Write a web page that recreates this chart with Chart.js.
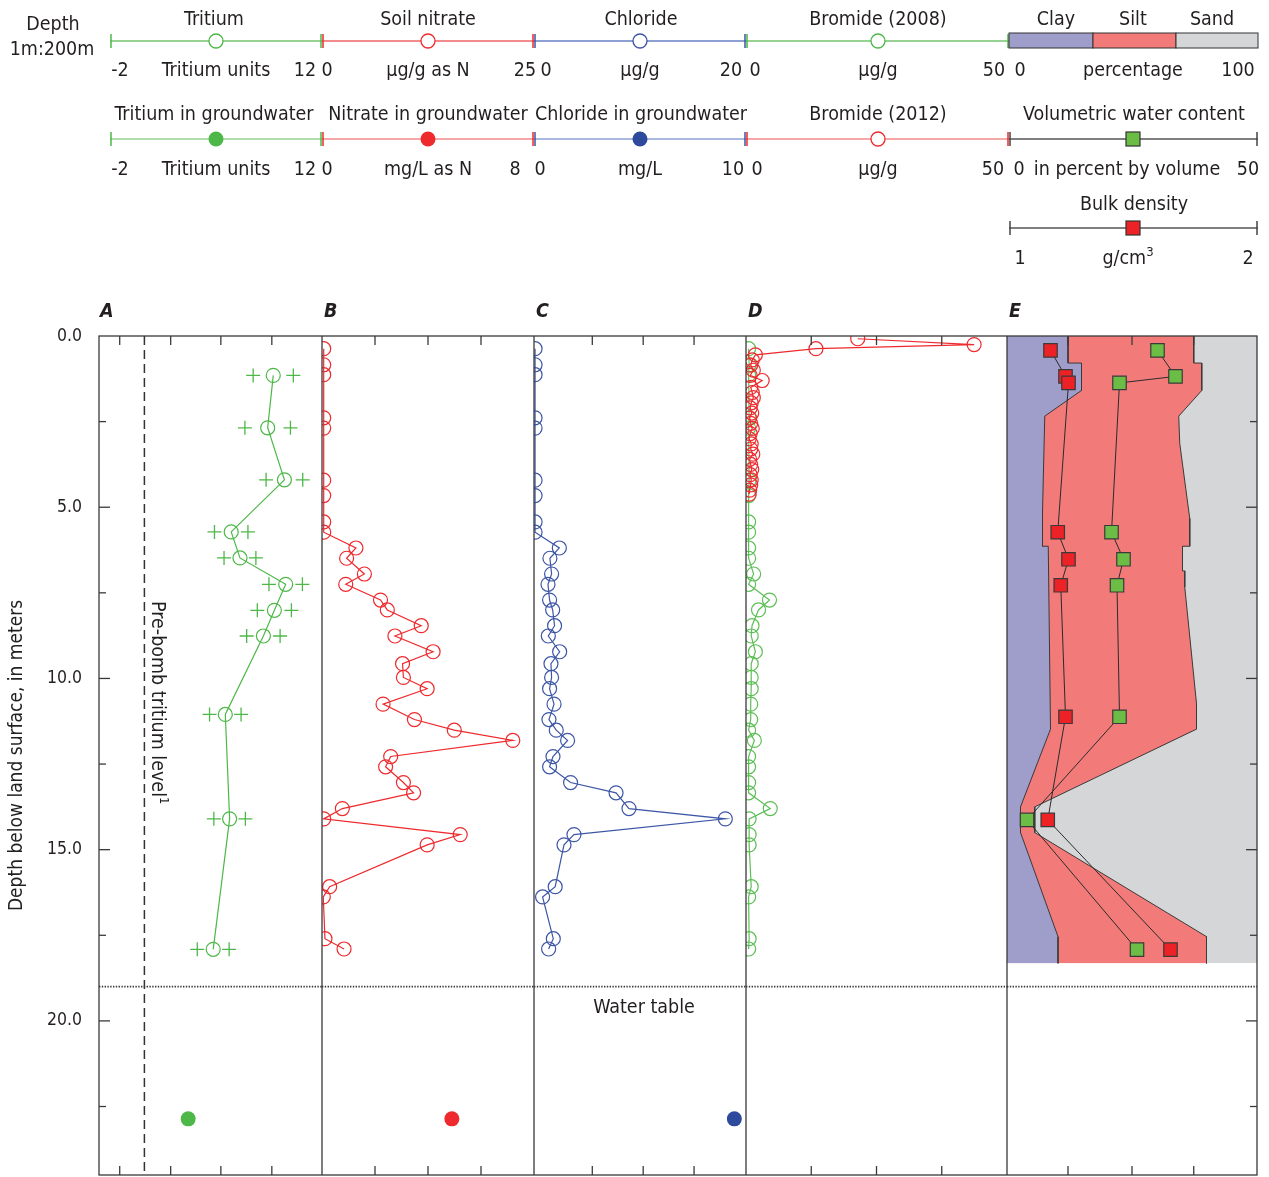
<!DOCTYPE html>
<html>
<head>
<meta charset="utf-8">
<title>Unsaturated zone profiles</title>
<script src="https://cdn.jsdelivr.net/npm/chart.js@4.4.1/dist/chart.umd.min.js"></script>
<style>
  html, body { margin: 0; padding: 0; background: #fff; }
  #page { position: relative; width: 1269px; height: 1177px; overflow: hidden; }
  #page canvas { position: absolute; top: 306px; }
  #overlay { position: absolute; left: 0; top: 0; pointer-events: none; }
  #overlay text { font-family: "Liberation Sans Narrow", "DejaVu Sans Condensed", sans-serif; font-size: 19.5px; fill: #231f20; }
</style>
</head>
<body>
<div id="page">
  <canvas id="chartA" width="322" height="899" style="left:0"></canvas>
  <canvas id="chartB" width="212" height="899" style="left:322px"></canvas>
  <canvas id="chartC" width="212" height="899" style="left:534px"></canvas>
  <canvas id="chartD" width="261" height="899" style="left:746px"></canvas>
  <canvas id="chartE" width="252" height="899" style="left:1007px"></canvas>
  <svg id="overlay" width="1269" height="1177"></svg>
</div>
<script>
// depth axis (meters below land surface)
const depthMin = 0;
const depthMax = 24.5;
const depthLabels = [0, 5, 10, 15, 20];
const depthMajorTicks = [5, 10, 15, 20];
const depthMinorTicks = [2.5, 7.5, 12.5, 17.5, 22.5];
const waterTableDepth = 19.0;

// panel A - tritium
const tritiumDepth = [1.15, 2.68, 4.20, 5.72, 6.48, 7.25, 8.01, 8.76, 11.05, 14.10, 17.91];
const tritium = [8.94, 8.59, 9.64, 6.30, 6.85, 9.72, 9.01, 8.32, 5.93, 6.20, 5.17];
const tritiumErr = [1.26, 1.43, 1.15, 1.05, 1.0, 1.05, 1.07, 1.05, 0.99, 0.99, 1.0];
const preBombTritium = 0.85;
const tritiumTicks = [-0.7, 2.5, 5.65, 8.85];

// groundwater samples
const gwDepth = 22.86;
const gwTritium = 3.6;
const gwNitrate = 4.9;
const gwChloride = 9.45;

// panels B, C, D - core samples
const coreDepth = [0.37, 0.84, 1.13, 2.39, 2.69, 4.21, 4.66, 5.43, 5.73, 6.19, 6.49, 6.95, 7.25, 7.71, 8.0, 8.46, 8.76, 9.22,
  9.57, 9.97, 10.3, 10.75, 11.2, 11.51, 11.81, 12.28, 12.58, 13.04, 13.34, 13.8, 14.1, 14.56, 14.86, 16.08, 16.38, 17.6, 17.9];
const soilNitrate = [0.2, 0.2, 0.2, 0.2, 0.2, 0.2, 0.2, 0.2, 0.2, 4.0, 2.9, 5.0, 2.8, 6.9, 7.7, 11.7, 8.6, 13.1,
  9.5, 9.6, 12.4, 7.2, 10.9, 15.6, 22.5, 8.1, 7.5, 9.6, 10.8, 2.4, 0.2, 16.3, 12.4, 0.9, 0.15, 0.35, 2.6];
const chloride = [0.1, 0.1, 0.1, 0.1, 0.1, 0.1, 0.1, 0.1, 0.1, 2.39, 1.5, 1.66, 1.32, 1.47, 1.76, 1.94, 1.35, 2.42,
  1.6, 1.66, 1.47, 1.89, 1.41, 2.1, 3.17, 1.79, 1.47, 3.45, 7.74, 8.96, 18.05, 3.77, 2.83, 2.0, 0.81, 1.82, 1.38];
const bromide2008 = [0.5, 0.6, 0.5, 0.6, 0.5, 0.6, 0.5, 0.5, 0.5, 0.5, 0.5, 1.46, 0.5, 4.5, 2.4, 1.15, 1.0, 1.8,
  1.0, 1.0, 1.0, 0.9, 0.9, 0.5, 1.6, 0.5, 0.5, 0.5, 0.5, 4.65, 0.6, 0.6, 0.6, 1.0, 0.5, 0.6, 0.5];
const bromide2012Depth = [0.08, 0.25, 0.37, 0.55, 0.7, 0.85, 1.0, 1.15, 1.3, 1.5, 1.65, 1.8, 1.95, 2.1, 2.25, 2.4,
  2.55, 2.7, 2.85, 3.0, 3.15, 3.3, 3.45, 3.6, 3.75, 3.9, 4.05, 4.2, 4.35, 4.5, 4.62];
const bromide2012 = [21.4, 43.7, 13.4, 1.8, 1.2, 0.9, 1.4, 0.8, 3.1, 0.9, 1.2, 1.4, 1.0, 0.8, 1.1, 0.7,
  0.9, 1.2, 0.8, 0.6, 1.0, 0.9, 1.3, 0.7, 0.9, 1.1, 0.8, 1.0, 0.9, 0.7, 0.6];
const nitrateTicks = [6.25, 12.5, 18.75];
const chlorideTicks = [5.5, 10.3, 15.1];
const bromideTicks = [12.5, 25, 37.5];

// panel E - texture, water content, bulk density
const clayDepth = [0, 0.79, 0.79, 1.59, 2.34, 5.14, 6.14, 6.14, 11.48, 13.75, 14.5, 17.54, 18.32];
const clayPct = [24.4, 24.4, 29.8, 29.8, 15.1, 14.2, 14.2, 16.5, 17.4, 5.4, 5.4, 20.4, 20.4];
const clayPlusSiltDepth = [0, 0.79, 0.79, 1.59, 2.34, 3.14, 5.33, 6.14, 6.14, 6.86, 6.86, 7.33, 10.73, 11.48, 13.75, 14.5, 17.54, 18.32];
const clayPlusSiltPct = [74.7, 74.7, 77.9, 77.9, 68.7, 69.1, 73.1, 73.1, 70.2, 70.2, 71.1, 71.1, 75.8, 75.8, 11.1, 11.1, 79.8, 79.8];
const textureBottom = 18.32;
const sampleDepthE = [0.42, 1.18, 1.37, 5.73, 6.52, 7.28, 11.12, 14.13, 17.92];
const waterContent = [30.1, 33.7, 22.5, 20.9, 23.3, 22.0, 22.5, 4.0, 26.0];
const bulkDensity = [1.174, 1.234, 1.246, 1.203, 1.246, 1.215, 1.234, 1.163, 1.654];
const textureTicks = [24.4, 50, 74.7];

const fontStack = '"Liberation Sans Narrow", "DejaVu Sans Condensed", sans-serif';
const green = '#4db848', red = '#ee2a2e', blue = '#3d56a6';

const panelFrame = {
  id: 'panelFrame',
  afterDatasetsDraw(chart, args, opts) {
    const { ctx, chartArea: area } = chart;
    const xs = chart.scales.x;
    const ys = chart.scales.y;
    const seg = (x0, y0, x1, y1) => { ctx.beginPath(); ctx.moveTo(x0, y0); ctx.lineTo(x1, y1); ctx.stroke(); };
    ctx.save();
    ctx.strokeStyle = '#3a3a3a';
    // water table
    const wy = ys.getPixelForValue(waterTableDepth);
    ctx.lineWidth = 1.6;
    ctx.setLineDash([1.4, 1.4]);
    seg(area.left, wy, area.right, wy);
    ctx.setLineDash([]);
    ctx.lineWidth = 1.3;
    ctx.strokeRect(area.left, area.top, area.right - area.left, area.bottom - area.top);
    (opts.xTicks || []).forEach(v => {
      const px = xs.getPixelForValue(v);
      seg(px, area.top, px, area.top + 9);
      seg(px, area.bottom, px, area.bottom - 9);
    });
    if (opts.depthSide) {
      const edge = opts.depthSide === 'left' ? area.left : area.right;
      const dir = opts.depthSide === 'left' ? 1 : -1;
      depthMajorTicks.forEach(d => { const py = ys.getPixelForValue(d); seg(edge, py, edge + dir * 11, py); });
      depthMinorTicks.forEach(d => { const py = ys.getPixelForValue(d); seg(edge, py, edge + dir * 7, py); });
    }
    ctx.restore();
  }
};

function depthScale(show) {
  return {
    type: 'linear', min: depthMin, max: depthMax, reverse: true, display: show,
    grid: { display: false, drawTicks: false },
    border: { display: false },
    afterBuildTicks: s => { s.ticks = depthLabels.map(v => ({ value: v })); },
    afterFit: s => { if (show) s.width = 99; },
    ticks: { padding: 17, color: '#231f20', font: { family: fontStack, size: 17.5 }, callback: v => v.toFixed(1) },
    title: { display: show, text: 'Depth below land surface, in meters', color: '#231f20',
      font: { family: fontStack, size: 19 }, padding: { top: 6, bottom: 0 } }
  };
}

function hidden(min, max) {
  return { type: 'linear', axis: 'x', min: min, max: max, display: false };
}

function panelOptions(xScales, frame, showDepth, padRight) {
  return {
    responsive: false,
    animation: false,
    indexAxis: 'y',
    layout: { autoPadding: false, padding: { top: 30, bottom: 30, left: 0, right: padRight || 0 } },
    scales: Object.assign({ y: depthScale(showDepth) }, xScales),
    plugins: { legend: { display: false }, tooltip: { enabled: false }, panelFrame: frame },
    elements: { line: { tension: 0 } }
  };
}

function profile(depths, values, color, axisId) {
  return {
    data: depths.map((d, i) => ({ x: values[i], y: d })),
    xAxisID: axisId || 'x',
    borderColor: color, borderWidth: 1.2,
    pointRadius: 7, pointBorderColor: color, pointBorderWidth: 1.2,
    pointBackgroundColor: 'rgba(0,0,0,0)'
  };
}

function dot(value, color, axisId) {
  return {
    data: [{ x: value, y: gwDepth }], xAxisID: axisId || 'x', showLine: false,
    pointRadius: 7.5, pointBackgroundColor: color, pointBorderColor: color, pointBorderWidth: 0
  };
}

// Panel A
new Chart(document.getElementById('chartA'), {
  type: 'line',
  data: {
    datasets: [
      profile(tritiumDepth, tritium, green),
      {
        data: tritiumDepth.flatMap((d, i) => [{ x: tritium[i] - tritiumErr[i], y: d }, { x: tritium[i] + tritiumErr[i], y: d }]),
        showLine: false, pointStyle: 'cross', pointRadius: 7, pointBorderColor: green, pointBorderWidth: 1.3
      },
      dot(gwTritium, green),
      {
        data: [{ x: preBombTritium, y: depthMin }, { x: preBombTritium, y: depthMax }],
        borderColor: '#333', borderWidth: 1.5, borderDash: [9, 5], pointRadius: 0
      }
    ]
  },
  options: panelOptions({ x: hidden(-2, 12) }, { xTicks: tritiumTicks, depthSide: 'left' }, true),
  plugins: [panelFrame]
});

// Panel B
new Chart(document.getElementById('chartB'), {
  type: 'line',
  data: { datasets: [profile(coreDepth, soilNitrate, red), dot(gwNitrate, red, 'x2')] },
  options: panelOptions({ x: hidden(0, 25), x2: hidden(0, 8) }, { xTicks: nitrateTicks }, false),
  plugins: [panelFrame]
});

// Panel C
new Chart(document.getElementById('chartC'), {
  type: 'line',
  data: { datasets: [profile(coreDepth, chloride, blue), dot(gwChloride, '#2e4a9c', 'x2')] },
  options: panelOptions({ x: hidden(0, 20), x2: hidden(0, 10) }, { xTicks: chlorideTicks }, false),
  plugins: [panelFrame]
});

// Panel D
new Chart(document.getElementById('chartD'), {
  type: 'line',
  data: { datasets: [profile(bromide2012Depth, bromide2012, red), profile(coreDepth, bromide2008, '#5cbf55')] },
  options: panelOptions({ x: hidden(0, 50) }, { xTicks: bromideTicks }, false),
  plugins: [panelFrame]
});

// Panel E
function squares(values, color, axisId) {
  return {
    data: sampleDepthE.map((d, i) => ({ x: values[i], y: d })), xAxisID: axisId,
    borderColor: '#2b2b2b', borderWidth: 1,
    pointStyle: 'rect', pointRadius: 9.5, pointBackgroundColor: color,
    pointBorderColor: '#3a3a3a', pointBorderWidth: 1.2
  };
}
function texture(depths, values, color, edge) {
  return {
    data: depths.map((d, i) => ({ x: values[i], y: d })), xAxisID: 'x',
    borderColor: edge, borderWidth: 1, pointRadius: 0,
    fill: { value: 0 }, backgroundColor: color
  };
}
new Chart(document.getElementById('chartE'), {
  type: 'line',
  data: {
    datasets: [
      squares(bulkDensity, '#ed2227', 'bd'),
      squares(waterContent, '#6cbd45', 'vwc'),
      texture(clayDepth, clayPct, '#9f9dca', '#3a3a3a'),
      texture(clayPlusSiltDepth, clayPlusSiltPct, '#f27a79', '#3a3a3a'),
      texture([0, textureBottom], [100, 100], '#d5d6d8', 'rgba(0,0,0,0)')
    ]
  },
  options: panelOptions({ x: hidden(0, 100), vwc: hidden(0, 50), bd: hidden(1, 2) },
    { xTicks: textureTicks, depthSide: 'right' }, false, 2),
  plugins: [panelFrame]
});

// legend header and annotations
const svg = document.getElementById('overlay');
const NS = 'http://www.w3.org/2000/svg';
function el(tag, attrs, text) {
  const e = document.createElementNS(NS, tag);
  for (const k in attrs) e.setAttribute(k, attrs[k]);
  if (text !== undefined) e.textContent = text;
  svg.appendChild(e);
  return e;
}
function txt(x, y, s, extra) {
  return el('text', Object.assign({ x: x, y: y, 'text-anchor': 'middle' }, extra || {}), s);
}
function keyAxis(x0, x1, y, lineColor, tickColor, w) {
  el('line', { x1: x0, y1: y, x2: x1, y2: y, stroke: lineColor, 'stroke-width': w });
  el('line', { x1: x0 + 1, y1: y - 7, x2: x0 + 1, y2: y + 7, stroke: tickColor, 'stroke-width': 1.5 });
  el('line', { x1: x1 - 1, y1: y - 7, x2: x1 - 1, y2: y + 7, stroke: tickColor, 'stroke-width': 1.5 });
}
function openCircle(x, y, c) { el('circle', { cx: x, cy: y, r: 7, fill: '#fff', stroke: c, 'stroke-width': 1.3 }); }
function fullCircle(x, y, c) { el('circle', { cx: x, cy: y, r: 7.5, fill: c }); }
function square(x, y, c) { el('rect', { x: x - 7, y: y - 7, width: 14, height: 14, fill: c, stroke: '#333', 'stroke-width': 1.2 }); }

txt(53, 30, 'Depth');
txt(52, 55, '1m:200m');

// row 1
txt(214, 25, 'Tritium'); txt(428, 25, 'Soil nitrate'); txt(641, 25, 'Chloride'); txt(878, 25, 'Bromide (2008)');
txt(1056, 25, 'Clay'); txt(1133, 25, 'Silt'); txt(1212, 25, 'Sand');
keyAxis(110, 322, 41, '#96d291', green, 2); openCircle(216, 41, green);
keyAxis(322, 534, 41, '#f28b8b', red, 2); openCircle(428, 41, red);
keyAxis(534, 746, 41, '#8e9fd3', blue, 2); openCircle(640, 41, blue);
keyAxis(746, 1009, 41, '#96d291', green, 2); openCircle(878, 41, green);
el('rect', { x: 1009, y: 33, width: 84, height: 15, fill: '#9f9dca', stroke: '#333', 'stroke-width': 1 });
el('rect', { x: 1093, y: 33, width: 83, height: 15, fill: '#f27a79', stroke: '#333', 'stroke-width': 1 });
el('rect', { x: 1176, y: 33, width: 82, height: 15, fill: '#d5d6d8', stroke: '#333', 'stroke-width': 1 });
[[120, '-2'], [216, 'Tritium units'], [305, '12'], [327, '0'], [428, 'µg/g as N'], [525, '25'], [546, '0'], [640, 'µg/g'],
 [731, '20'], [755, '0'], [878, 'µg/g'], [994, '50'], [1020, '0'], [1133, 'percentage'], [1238, '100']]
  .forEach(p => txt(p[0], 76, p[1]));

// row 2
txt(214, 120, 'Tritium in groundwater'); txt(428, 120, 'Nitrate in groundwater'); txt(641, 120, 'Chloride in groundwater');
txt(878, 120, 'Bromide (2012)'); txt(1134, 120, 'Volumetric water content');
keyAxis(110, 322, 139, '#96d291', green, 1.6); fullCircle(216, 139, green);
keyAxis(322, 534, 139, '#f28b8b', red, 1.6); fullCircle(428, 139, red);
keyAxis(534, 746, 139, '#8e9fd3', blue, 1.6); fullCircle(640, 139, '#2e4a9c');
keyAxis(746, 1009, 139, '#f28b8b', red, 1.6); openCircle(878, 139, red);
keyAxis(1009, 1258, 139, '#555', '#444', 1.3); square(1133, 139, '#6cbd45');
[[120, '-2'], [216, 'Tritium units'], [305, '12'], [327, '0'], [428, 'mg/L as N'], [515, '8'], [540, '0'], [640, 'mg/L'],
 [733, '10'], [757, '0'], [878, 'µg/g'], [993, '50'], [1019, '0'], [1127, 'in percent by volume'], [1248, '50']]
  .forEach(p => txt(p[0], 175, p[1]));

// row 3
txt(1134, 210, 'Bulk density');
keyAxis(1009, 1258, 228, '#555', '#444', 1.3); square(1133, 228, '#ed2227');
txt(1020, 264, '1'); txt(1248, 264, '2');
const gcm = txt(1128, 264, 'g/cm');
el('tspan', { dy: -8, 'font-size': 13 }, '3');
gcm.appendChild(svg.lastChild);

// panel letters
[['A', 100], ['B', 324], ['C', 536], ['D', 748], ['E', 1009]].forEach(p =>
  txt(p[1], 317, p[0], { 'text-anchor': 'start', 'font-weight': 'bold', 'font-style': 'italic', 'font-size': 21 }));

txt(644, 1013, 'Water table');
const pb = el('text', { transform: 'translate(152,601) rotate(90)' }, 'Pre-bomb tritium level');
el('tspan', { dy: -8, 'font-size': 13 }, '1');
pb.appendChild(svg.lastChild);
</script>
</body>
</html>
